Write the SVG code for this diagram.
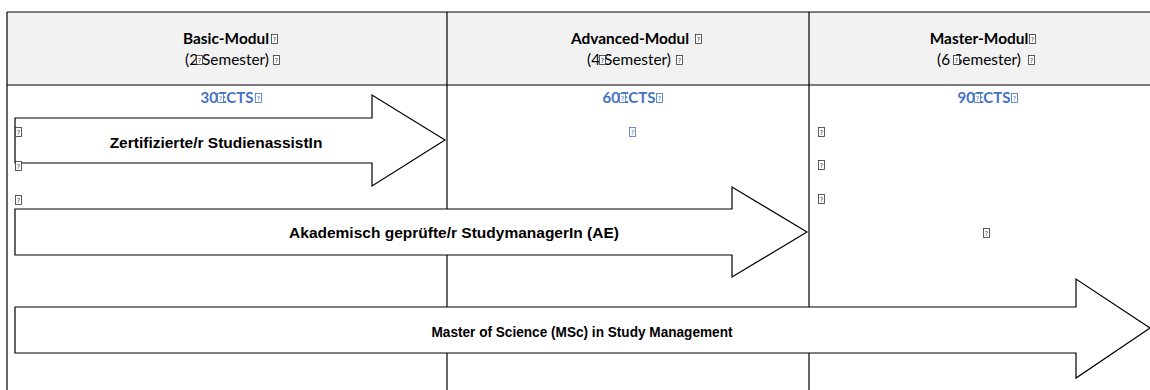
<svg xmlns="http://www.w3.org/2000/svg" width="1150" height="390" viewBox="0 0 1150 390">
<style>
.grid{stroke:#000;stroke-width:1.2;fill:none}
.hdr{font-family:Lato,"Liberation Sans",sans-serif;font-size:15.4px;fill:#000;text-anchor:middle}
.b{font-weight:bold}
.ects{font-family:Lato,"Liberation Sans",sans-serif;font-size:15px;font-weight:bold;fill:#4472c4;text-anchor:middle}
.arrow{fill:#fff;stroke:#000;stroke-width:1.2}
.lbl{font-family:"Liberation Sans",Arial,sans-serif;font-size:15.5px;font-weight:bold;fill:#000;text-anchor:middle}
.tq{font-family:"DejaVu Sans",sans-serif;font-size:6.5px;text-anchor:middle}
</style>
<defs>
<symbol id="tofu" overflow="visible">
<rect x="0.5" y="0.5" width="6" height="9" fill="#fff" stroke="#333" stroke-width="0.8"/>
<text class="tq" x="3.5" y="7.8" fill="#333">?</text>
</symbol>
<symbol id="tofuB" overflow="visible">
<rect x="0.5" y="0.5" width="6" height="9" fill="#fff" stroke="#4472c4" stroke-width="0.8"/>
<text class="tq" x="3.5" y="7.8" fill="#4472c4">?</text>
</symbol>
</defs>
<rect x="0" y="0" width="1150" height="390" fill="#fff"/>
<g id="table">
<rect x="7" y="12" width="1150" height="73" fill="#f2f2f2"/>
<line class="grid" x1="7" y1="12" x2="1150" y2="12"/>
<line class="grid" x1="7" y1="85" x2="1150" y2="85"/>
<line class="grid" x1="7" y1="12" x2="7" y2="390"/>
<line class="grid" x1="447" y1="12" x2="447" y2="390"/>
<line class="grid" x1="809" y1="12" x2="809" y2="390"/>
</g>
<g id="col-basic">
<text class="hdr b" x="226" y="44">Basic-Modul</text>
<use href="#tofu" x="271" y="34"/>
<text class="hdr" x="227" y="65">(2 Semester)</text>
<use href="#tofu" x="196" y="55"/>
<use href="#tofu" x="273" y="55"/>
<text class="ects" x="227" y="103">30ECTS</text>
<use href="#tofuB" x="217" y="93"/>
<use href="#tofuB" x="255" y="93"/>
</g>
<g id="col-advanced">
<text class="hdr b" x="630" y="44">Advanced-Modul</text>
<use href="#tofu" x="695" y="34"/>
<text class="hdr" x="629" y="65">(4 Semester)</text>
<use href="#tofu" x="599" y="55"/>
<use href="#tofu" x="676" y="55"/>
<text class="ects" x="629" y="103">60ECTS</text>
<use href="#tofuB" x="619" y="93"/>
<use href="#tofuB" x="656" y="93"/>
<use href="#tofuB" x="629" y="127"/>
</g>
<g id="col-master">
<text class="hdr b" x="979" y="44">Master-Modul</text>
<use href="#tofu" x="1029" y="34"/>
<text class="hdr" x="979" y="65">(6 Semester)</text>
<use href="#tofu" x="953" y="55"/>
<use href="#tofu" x="1028" y="55"/>
<text class="ects" x="984" y="103">90ECTS</text>
<use href="#tofuB" x="974" y="93"/>
<use href="#tofuB" x="1011" y="93"/>
</g>
<g id="connectors">
<g id="arrow-assistent">
<polygon class="arrow" points="15,118 372,118 372,95 445,140 372,186 372,163 15,163"/>
<text class="lbl" x="216" y="148">Zertifizierte/r StudienassistIn</text>
</g>
<g id="arrow-studymanager">
<polygon class="arrow" points="15,209 732,209 732,187 807,232 732,277 732,255 15,255"/>
<text class="lbl" x="454" y="238">Akademisch geprüfte/r StudymanagerIn (AE)</text>
</g>
<g id="arrow-msc">
<polygon class="arrow" points="15,307 1076,307 1076,279 1150,328 1076,378 1076,353 15,353" stroke-width="1.5"/>
<text class="lbl" x="582" y="337" textLength="301" lengthAdjust="spacingAndGlyphs">Master of Science (MSc) in Study Management</text>
</g>
</g>
<g id="marks">
<use href="#tofu" x="15" y="127"/>
<use href="#tofu" x="15" y="161"/>
<use href="#tofu" x="15" y="195"/>
<use href="#tofu" x="818" y="127"/>
<use href="#tofu" x="818" y="160"/>
<use href="#tofu" x="818" y="194"/>
<use href="#tofu" x="983" y="228"/>
</g>
</svg>
